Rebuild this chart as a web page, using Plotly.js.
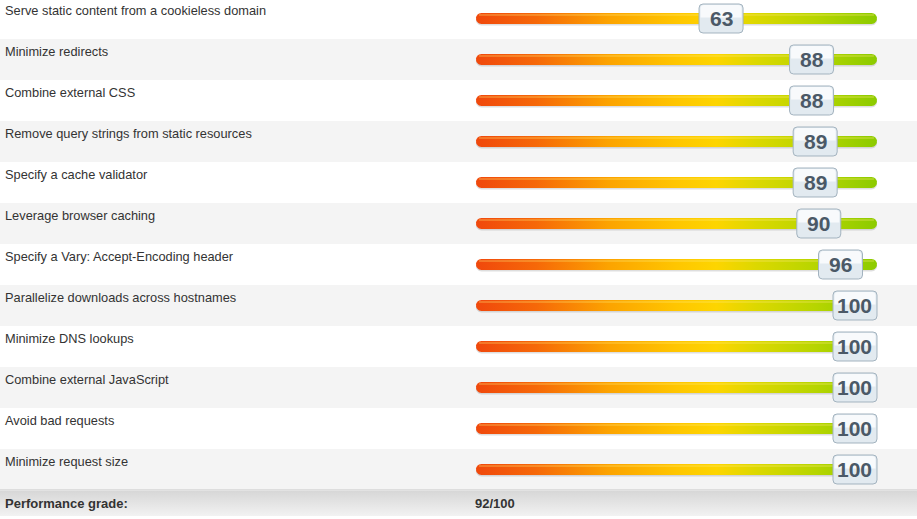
<!DOCTYPE html>
<html>
<head>
<meta charset="utf-8">
<script src="https://cdn.plot.ly/plotly-3.0.1.min.js"></script>
<style>html,body{margin:0;padding:0;background:#fff;}#chart{width:917px;height:519px;}</style>
</head>
<body>
<div id="chart"></div>
<script>
const categories = [
  'Serve static content from a cookieless domain',
  'Minimize redirects',
  'Combine external CSS',
  'Remove query strings from static resources',
  'Specify a cache validator',
  'Leverage browser caching',
  'Specify a Vary: Accept-Encoding header',
  'Parallelize downloads across hostnames',
  'Minimize DNS lookups',
  'Combine external JavaScript',
  'Avoid bad requests',
  'Minimize request size'
];
const scores = [63, 88, 88, 89, 89, 90, 96, 100, 100, 100, 100, 100];
const gradeLabel = 'Performance grade:';
const gradeValue = '92/100';
const trackMin = 0, trackMax = 100;

// ---- geometry helpers (pixel scale of axes) ----
const W = 917, H = 519;
const xRange = [-118.70, 109.98];           // track 0..100 -> 476..877 px
const x2Range = [-136.19, 117.13];          // score box centre axis
const yRange = [12.207, -0.451];            // row i centre -> 18.5 + 41 i px
const pxPerX = W / (xRange[1] - xRange[0]);
const pxPerY = H / (yRange[0] - yRange[1]);
const barHalfPx = 5.5;

function capsule(yc, x0, x1, offPx) {
  const rx = barHalfPx / pxPerX, ry = barHalfPx / pxPerY, off = (offPx || 0) / pxPerY;
  const xs = [], ys = [], n = 14;
  for (let k = 0; k <= n; k++) {           // right cap
    const t = -Math.PI / 2 + Math.PI * k / n;
    xs.push(x1 - rx + rx * Math.cos(t)); ys.push(yc + off + ry * Math.sin(t));
  }
  for (let k = 0; k <= n; k++) {           // left cap
    const t = Math.PI / 2 + Math.PI * k / n;
    xs.push(x0 + rx + rx * Math.cos(t)); ys.push(yc + off + ry * Math.sin(t));
  }
  xs.push(xs[0]); ys.push(ys[0]);
  return {xs, ys};
}

const barScale = [[0,'#f0480c'],[0.15,'#f66808'],[0.33,'#fca300'],[0.5,'#ffc600'],[0.6,'#fdd500'],[0.7,'#dcd800'],[0.85,'#b6d500'],[1,'#8ccb00']];

const traces = [];
const shapes = [];
const annotations = [];

// row backgrounds
categories.forEach((c, i) => {
  if (i % 2 === 1) {
    shapes.push({type:'rect', layer:'below', xref:'paper', x0:0, x1:1, yref:'y', y0:i-0.5, y1:i+0.5,
      fillcolor:'#f4f4f4', line:{width:0}});
  }
});

// footer
const fTop = 11.5 + 1 / pxPerY, fBot = 11.5 + 26 / pxPerY;
traces.push({type:'scatter', mode:'lines', x:[xRange[0], xRange[1], xRange[1], xRange[0], xRange[0]],
  y:[fTop, fTop, fBot, fBot, fTop], fill:'toself', line:{width:0},
  fillgradient:{type:'vertical', colorscale:[[0,'#f2f2f2'],[1,'#d7d7d7']]}, hoverinfo:'skip', showlegend:false});
shapes.push({type:'line', xref:'paper', x0:0, x1:1, yref:'y', y0:11.5, y1:11.5, line:{color:'#c6c6c6', width:1}});

// bars (track from trackMin to trackMax)
categories.forEach((c, i) => {
  const sh = capsule(i, trackMin, trackMax, 1.5);
  traces.push({type:'scatter', mode:'lines', x:sh.xs, y:sh.ys, fill:'toself', fillcolor:'rgba(0,0,0,0.13)',
    line:{width:0}, hoverinfo:'skip', showlegend:false});
  const b = capsule(i, trackMin, trackMax, 0);
  traces.push({type:'scatter', mode:'lines', x:b.xs, y:b.ys, fill:'toself', line:{width:0},
    fillgradient:{type:'horizontal', colorscale:barScale}, hoverinfo:'skip', showlegend:false});
  const hy = i - 3.5 / pxPerY;
  traces.push({type:'scatter', mode:'lines', x:[trackMin + 3 / pxPerX, trackMax - 3 / pxPerX], y:[hy, hy],
    line:{width:1, color:'rgba(255,235,120,0.55)'}, hoverinfo:'skip', showlegend:false});
});

// score boxes
function rrect(hw, hh, r) {
  return `M ${-hw+r},${-hh} L ${hw-r},${-hh} Q ${hw},${-hh} ${hw},${-hh+r} L ${hw},${hh-r} Q ${hw},${hh} ${hw-r},${hh} ` +
         `L ${-hw+r},${hh} Q ${-hw},${hh} ${-hw},${hh-r} L ${-hw},${-hh+r} Q ${-hw},${-hh} ${-hw+r},${-hh} Z`;
}
scores.forEach((s, i) => {
  shapes.push({type:'path', layer:'above', xref:'x2', xsizemode:'pixel', xanchor:s, yref:'y', ysizemode:'pixel', yanchor:i,
    path: rrect(22, 14.5, 4), fillcolor:'#e2eaf0', line:{color:'#a3b3bf', width:1}});
  shapes.push({type:'path', layer:'above', xref:'x2', xsizemode:'pixel', xanchor:s, yref:'y', ysizemode:'pixel', yanchor:i,
    path: `M -20.5,1 L 20.5,1 L 20.5,10 Q 20.5,13.5 17,13.5 L -17,13.5 Q -20.5,13.5 -20.5,10 Z`, fillcolor:'#f8fafc', line:{width:0}});
  annotations.push({xref:'x2', x:s, yref:'y', y:i, text:String(s), showarrow:false, xanchor:'center', yanchor:'middle',
    font:{family:'Liberation Sans, Arial, sans-serif', size:21, color:'#4b5967', weight:'bold'}});
});

// category labels
categories.forEach((c, i) => {
  annotations.push({xref:'paper', x:3 / W, xanchor:'left', yref:'y', y:i - 8 / pxPerY, yanchor:'middle',
    text:c, showarrow:false, font:{family:'Liberation Sans, Arial, sans-serif', size:12.8, color:'#333333'}});
});

// footer text
const fy = 11.5 + 13.5 / pxPerY;
annotations.push({xref:'paper', x:3 / W, xanchor:'left', yref:'y', y:fy, yanchor:'middle', text:gradeLabel, showarrow:false,
  font:{family:'Liberation Sans, Arial, sans-serif', size:13, color:'#333333', weight:'bold'}});
annotations.push({xref:'paper', x:473 / W, xanchor:'left', yref:'y', y:fy, yanchor:'middle', text:gradeValue, showarrow:false,
  font:{family:'Liberation Sans, Arial, sans-serif', size:13, color:'#333333', weight:'bold'}});

const layout = {
  width: W, height: H,
  margin: {l:0, r:0, t:0, b:0, pad:0},
  paper_bgcolor: '#ffffff', plot_bgcolor: 'rgba(0,0,0,0)',
  showlegend: false,
  xaxis: {range: xRange, visible: false, fixedrange: true},
  xaxis2: {range: x2Range, overlaying: 'x', visible: false, fixedrange: true},
  yaxis: {range: yRange, visible: false, fixedrange: true},
  shapes, annotations
};
Plotly.newPlot('chart', traces, layout, {staticPlot: true, displayModeBar: false});
</script>
</body>
</html>
